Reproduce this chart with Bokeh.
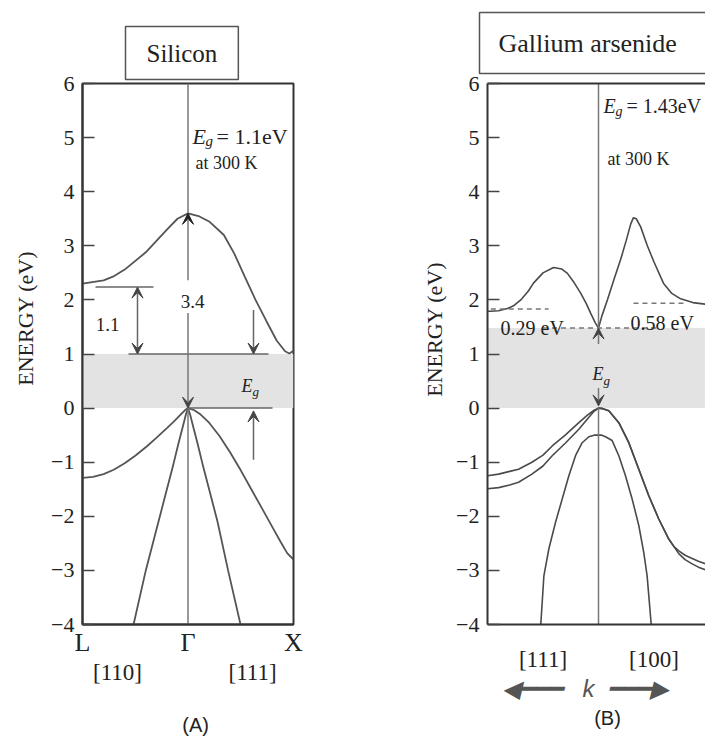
import math
from bokeh.plotting import figure
from bokeh.models import Label, Arrow, VeeHead, FixedTicker, LinearAxis, Range1d, Title
from bokeh.layouts import row
from bokeh.embed import file_html
from bokeh.resources import INLINE

SERIF = "Liberation Serif"
SANS = "Liberation Sans"
INK = "#222222"
CURVE = "#555555"
GUIDE = "#777777"
BAND = "#e3e3e3"
NB = "\u00a0"

# ---------------- Silicon data (k: L=0, Gamma=0.5, X=1), energies in eV ----------------
si_cb_k = [0, 0.1, 0.15, 0.2, 0.3, 0.4, 0.45, 0.5, 0.55, 0.6, 0.67, 0.72, 0.77, 0.82, 0.87, 0.92, 0.96, 0.98, 1.0]
si_cb_E = [2.3, 2.36, 2.44, 2.56, 2.88, 3.3, 3.5, 3.6, 3.55, 3.45, 3.2, 2.85, 2.42, 2.0, 1.62, 1.25, 1.05, 1.01, 1.06]
si_vl_k = [0, 0.05, 0.1, 0.148, 0.2, 0.25, 0.307, 0.35, 0.4, 0.43, 0.465, 0.485, 0.5]
si_vl_E = [-1.29, -1.27, -1.22, -1.14, -1.02, -0.88, -0.70, -0.55, -0.37, -0.26, -0.12, -0.04, 0]
si_vr_k = [0.5, 0.53, 0.56, 0.6, 0.65, 0.7, 0.75, 0.8, 0.85, 0.9, 0.94, 0.97, 1.0]
si_vr_E = [0, -0.04, -0.12, -0.27, -0.52, -0.82, -1.15, -1.5, -1.85, -2.2, -2.48, -2.68, -2.8]
si_l1_k = [0.5, 0.49, 0.475, 0.455, 0.43, 0.4, 0.36, 0.3, 0.242]
si_l2_k = [0.5, 0.51, 0.525, 0.545, 0.57, 0.6, 0.64, 0.69, 0.749]
si_l_E = [0, -0.12, -0.35, -0.65, -1.05, -1.5, -2.1, -3.0, -4.0]
si_gap = [0.0, 1.0]
si_k_ticks = [0, 0.5, 1]
si_k_labels = ["L", "Γ", "X"]
si_dir_ticks = [0.166, 0.806]
si_dir_labels = ["[110]", "[111]"]

# ---------------- GaAs data (k: [111] to the left, Gamma=0, [100] to the right) ----------------
ga_cb_k = [-1.0, -0.973, -0.9, -0.82, -0.766, -0.7, -0.63, -0.586, -0.5, -0.405, -0.33, -0.28, -0.22, -0.162,
           -0.11, -0.072, -0.03, 0, 0.03, 0.08, 0.14, 0.2, 0.25, 0.29, 0.315, 0.34, 0.38, 0.44, 0.5, 0.585,
           0.66, 0.74, 0.85, 0.964, 1.0]
ga_cb_E = [1.79, 1.79, 1.8, 1.84, 1.89, 2.0, 2.17, 2.31, 2.5, 2.6, 2.57, 2.49, 2.32, 2.13,
           1.93, 1.76, 1.58, 1.48, 1.7, 2.0, 2.38, 2.75, 3.1, 3.4, 3.52, 3.5, 3.35, 3.0, 2.7, 2.31,
           2.12, 2.02, 1.95, 1.92, 1.92]
ga_hh_k = [-1, -0.9, -0.8, -0.72, -0.6, -0.5, -0.417, -0.3, -0.177, -0.1, -0.04, 0,
           0.04, 0.093, 0.183, 0.273, 0.363, 0.453, 0.543, 0.633, 0.68, 0.723, 0.78, 0.844, 0.9, 0.964, 1.0]
ga_hh_E = [-1.25, -1.22, -1.17, -1.13, -1.0, -0.87, -0.70, -0.50, -0.27, -0.13, -0.04, 0,
           -0.01, -0.05, -0.27, -0.64, -1.13, -1.62, -2.05, -2.42, -2.56, -2.64, -2.72, -2.78, -2.83, -2.88, -2.9]
ga_lh_k = [-1, -0.9, -0.8, -0.72, -0.6, -0.5, -0.417, -0.3, -0.177, -0.1, -0.04, 0,
           0.04, 0.093, 0.183, 0.273, 0.363, 0.453, 0.543, 0.633, 0.68, 0.723, 0.78, 0.844, 0.9, 0.964, 1.0]
ga_lh_E = [-1.49, -1.47, -1.42, -1.37, -1.22, -1.07, -0.88, -0.65, -0.39, -0.2, -0.06, 0,
           -0.01, -0.05, -0.27, -0.64, -1.13, -1.62, -2.05, -2.42, -2.56, -2.69, -2.8, -2.88, -2.94, -2.99, -3.01]
ga_so_k = [-0.52, -0.492, -0.447, -0.387, -0.327, -0.267, -0.207, -0.147, -0.087, -0.04, 0, 0.03, 0.063,
           0.123, 0.183, 0.243, 0.303, 0.363, 0.408, 0.438, 0.475]
ga_so_E = [-4.0, -3.1, -2.6, -2.11, -1.68, -1.25, -0.88, -0.64, -0.53, -0.5, -0.5, -0.5, -0.53,
           -0.6, -0.88, -1.25, -1.68, -2.17, -2.67, -3.1, -4.0]
ga_gap = [0.0, 1.48]
ga_k_ticks = [-0.5, 0.5]
ga_k_labels = ["[111]", "[100]"]
ga_arrow_ticks = [-0.595, -0.09, 0.36]
ga_arrow_labels = ["◀━━━", "k", "━━━▶"]

energy_ticks = [-4, -3, -2, -1, 0, 1, 2, 3, 4, 5, 6]

# ---------------- layout (pixel geometry) ----------------
H = 738
TOP, BOTTOM = 83, 113
A_L, A_W, A_R = 82, 211, 114
B_LB, B_W = 80, 218
B_UNIT = 111.0
B_XMAX = -1 + B_W / B_UNIT


# positions of annotations in its pixels -> data coordinates
def A_x(px):
    return (px - 82) / 211.0


def A_y(py):
    return 6 - (py - 75) / 54.2


def B_x(px):
    return (px - 598) / B_UNIT


def B_y(py):
    return 6 - (py - 87) / 54.2


def style_y(p, label, standoff):
    ax = p.left[0]
    ax.ticker = FixedTicker(ticks=energy_ticks)
    ax.major_tick_in = 12
    ax.major_tick_out = 0
    ax.minor_tick_in = 0
    ax.minor_tick_out = 0
    ax.major_tick_line_color = "#444444"
    ax.major_tick_line_width = 1.5
    ax.major_label_text_font = SERIF
    ax.major_label_text_font_size = "22px"
    ax.major_label_text_color = INK
    ax.major_label_standoff = 8
    ax.axis_line_width = 2
    ax.axis_line_color = "#333333"
    ax.axis_label = label
    ax.axis_label_text_font = SERIF
    ax.axis_label_text_font_size = "22px"
    ax.axis_label_text_font_style = "normal"
    ax.axis_label_text_color = INK
    ax.axis_label_standoff = standoff


def style_x(p, ticks, labels, size, standoff):
    ax = p.below[0]
    ax.ticker = FixedTicker(ticks=ticks)
    ax.major_label_overrides = {t: l for t, l in zip(ticks, labels)}
    ax.major_tick_in = 0
    ax.major_tick_out = 0
    ax.minor_tick_in = 0
    ax.minor_tick_out = 0
    ax.major_label_text_font = SERIF
    ax.major_label_text_font_size = size
    ax.major_label_text_color = INK
    ax.major_label_standoff = standoff
    ax.axis_line_width = 2
    ax.axis_line_color = "#333333"


def label_axis(p, ticks, labels, size, standoff, font=SERIF, style="normal", color=INK):
    ax = LinearAxis(ticker=FixedTicker(ticks=ticks),
                    major_label_overrides={t: l for t, l in zip(ticks, labels)},
                    axis_line_color=None, major_tick_line_color=None, minor_tick_line_color=None,
                    major_tick_in=0, major_tick_out=0, minor_tick_in=0, minor_tick_out=0,
                    major_label_standoff=standoff, major_label_text_font=font,
                    major_label_text_font_size=size, major_label_text_font_style=style,
                    major_label_text_color=color)
    p.add_layout(ax, "below")


def txt(p, x, y, text, size, font=SERIF, style="normal", align="left", baseline="alphabetic"):
    p.add_layout(Label(x=x, y=y, text=text, text_font=font, text_font_size=size, text_font_style=style,
                       text_color=INK, text_align=align, text_baseline=baseline))


def arrow(p, x0, y0, x1, y1, color="#666666", head="#444444", both=False, size=11, width=1.5):
    start = VeeHead(size=size, fill_color=head, line_color=head, line_width=1) if both else None
    p.add_layout(Arrow(start=start, end=VeeHead(size=size, fill_color=head, line_color=head, line_width=1),
                       x_start=x0, y_start=y0, x_end=x1, y_end=y1, line_color=color, line_width=width))


def box_title(p, text, offset, standoff, size, padding):
    t = Title(text=text, align="left", offset=offset, standoff=standoff,
              background_fill_color="white", border_line_color="#555555", border_line_width=1.5,
              padding=padding)
    t.text_font = SERIF
    t.text_font_size = size
    t.text_font_style = "normal"
    t.text_color = INK
    p.title = t


# =============================== Panel A : Silicon ===============================
pa = figure(width=A_L + A_W + A_R, height=H, x_range=Range1d(0, 1), y_range=Range1d(-4, 6),
            output_backend="svg", toolbar_location=None,
            min_border_left=A_L, min_border_right=A_R, min_border_top=TOP, min_border_bottom=BOTTOM)
box_title(pa, "Silicon", 43, 8, "25px", dict(left=21, right=21, top=13, bottom=13))
pa.grid.visible = False
pa.outline_line_color = "#333333"
pa.outline_line_width = 2
style_y(pa, NB * 13 + "ENERGY (eV)", 10)
style_x(pa, si_k_ticks, si_k_labels, "26px", 3)
label_axis(pa, si_dir_ticks, si_dir_labels, "23px", 0)
label_axis(pa, [0.536], ["(A)"], "20px", 26, font=SANS)

pa.quad(left=[0], right=[1], bottom=[si_gap[0]], top=[si_gap[1]], fill_color=BAND, line_color=None)
for xs, ys in [(si_cb_k, si_cb_E), (si_vl_k, si_vl_E), (si_vr_k, si_vr_E), (si_l1_k, si_l_E), (si_l2_k, si_l_E)]:
    pa.line(xs, ys, line_color=CURVE, line_width=1.8)

# Gamma line (interrupted by the 3.4 label)
pa.segment(x0=[0.5, 0.5], y0=[6, si_gap[0]], x1=[0.5, 0.5], y1=[max(si_cb_E), -4], line_color=GUIDE, line_width=1.5)
arrow(pa, 0.5, A_y(272), 0.5, max(si_cb_E), color=GUIDE, head="#222222")
arrow(pa, 0.5, A_y(305), 0.5, si_gap[0], color=GUIDE, head="#444444")
txt(pa, A_x(192), A_y(293), "3.4", "19px", align="center", baseline="middle")

# guide lines and arrows
pa.segment(x0=[A_x(95), A_x(128), 0.5], y0=[A_y(279), si_gap[1], si_gap[0]],
           x1=[A_x(153), A_x(268), A_x(272)], y1=[A_y(279), si_gap[1], si_gap[0]],
           line_color="#666666", line_width=1.5)
arrow(pa, A_x(137), A_y(279), A_x(137), si_gap[1], both=True)
txt(pa, A_x(107), A_y(316), "1.1", "19px", align="center", baseline="middle")
arrow(pa, A_x(253), A_y(302), A_x(253), si_gap[1])
arrow(pa, A_x(253), A_y(452), A_x(253), A_y(403))

# E_g labels
txt(pa, A_x(241), A_y(378), "E", "18px", style="italic")
txt(pa, A_x(252), A_y(384), "g", "13px", style="italic")
txt(pa, A_x(192), A_y(128), "E", "22px", style="italic")
txt(pa, A_x(205), A_y(133), "g", "15px", style="italic")
txt(pa, A_x(216), A_y(128), "= 1.1eV", "22px")
txt(pa, A_x(195), A_y(155), "at 300 K", "18px")

# =============================== Panel B : GaAs ===============================
pb = figure(width=B_LB + B_W, height=H, x_range=Range1d(-1, B_XMAX), y_range=Range1d(-4, 6),
            output_backend="svg", toolbar_location=None,
            min_border_left=B_LB, min_border_right=0, min_border_top=TOP, min_border_bottom=BOTTOM)
pb.grid.visible = False
pb.outline_line_color = None
style_y(pb, NB * 9 + "ENERGY (eV)", 6)
style_x(pb, ga_k_ticks, ga_k_labels, "23px", 22)
label_axis(pb, ga_arrow_ticks, ga_arrow_labels, "24px", 0, font=SANS, style="italic", color="#555555")
label_axis(pb, [0.081], ["(B)"], "20px", 2, font=SANS)
top_axis = LinearAxis(ticker=FixedTicker(ticks=[]), major_label_text_font_size="0px",
                      major_tick_in=0, major_tick_out=0, minor_tick_in=0, minor_tick_out=0,
                      axis_line_width=2, axis_line_color="#333333")
pb.add_layout(top_axis, "above")
box_title(pb, "Gallium arsenide", -8, 20, "26px", dict(left=19, right=60, top=16, bottom=16))

pb.quad(left=[-1], right=[1], bottom=[ga_gap[0]], top=[ga_gap[1]], fill_color=BAND, line_color=None)
for xs, ys in [(ga_cb_k, ga_cb_E), (ga_hh_k, ga_hh_E), (ga_lh_k, ga_lh_E), (ga_so_k, ga_so_E)]:
    pb.line(xs, ys, line_color="#4a4a4a", line_width=1.6)

pb.segment(x0=[0, 0], y0=[6, ga_gap[0]], x1=[0, 0], y1=[ga_gap[1], -4], line_color=GUIDE, line_width=1.5)
arrow(pb, 0, B_y(348), 0, ga_gap[1], color=GUIDE, head="#444444")
arrow(pb, 0, B_y(392), 0, B_y(410), color=GUIDE, head="#444444")

# dashed level lines
pb.segment(x0=[-0.97, -0.5, 0.315], y0=[1.83, ga_gap[1], 1.94], x1=[-0.45, 0.52, 0.78], y1=[1.83, ga_gap[1], 1.94],
           line_color="#777777", line_width=1.5, line_dash="5 4")
txt(pb, B_x(500), B_y(332), "0.29 eV", "20px")
txt(pb, B_x(630), B_y(327), "0.58 eV", "20px")

txt(pb, B_x(592), B_y(378), "E", "18px", style="italic")
txt(pb, B_x(603), B_y(385), "g", "13px", style="italic")
txt(pb, B_x(603), B_y(110), "E", "20px", style="italic")
txt(pb, B_x(615), B_y(115), "g", "14px", style="italic")
txt(pb, B_x(626), B_y(110), "= 1.43eV", "20px")
txt(pb, B_x(607), B_y(163), "at 300 K", "18px")

layout = row(pa, pb)
open("out.html", "w").write(file_html(layout, INLINE))
